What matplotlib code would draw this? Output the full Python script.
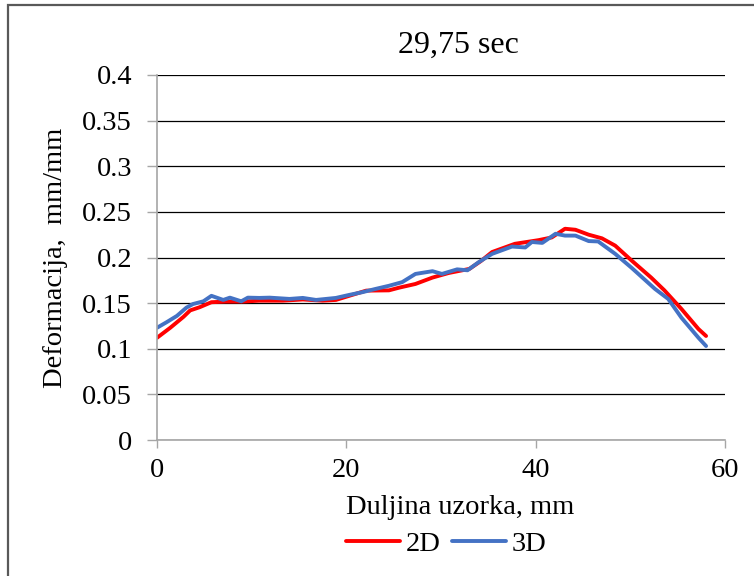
import matplotlib
matplotlib.use("Agg")
import matplotlib.pyplot as plt
from matplotlib.patches import Rectangle

# deformation along the specimen length at t = 29,75 sec
x_2d = [0, 1.4, 2.8, 3.5, 4.5, 5.75, 7.3, 9.1, 10.8, 13.3, 15.4, 17.5, 18.9,
        20.3, 22.1, 24.5, 25.6, 27.3, 29.1, 30.8, 33.0, 34.2, 35.4, 37.8,
        40.3, 41.7, 43.1, 44.2, 45.6, 47.0, 48.4, 50.1, 52.2, 53.6, 55.4,
        57.2, 58.0]
y_2d = [0.112, 0.123, 0.135, 0.142, 0.1455, 0.151, 0.1517, 0.1517, 0.1527,
        0.1527, 0.154, 0.1527, 0.1535, 0.158, 0.1637, 0.164, 0.167, 0.171,
        0.178, 0.183, 0.1875, 0.196, 0.206, 0.215, 0.219, 0.222, 0.2315,
        0.2304, 0.225, 0.221, 0.213, 0.197, 0.178, 0.164, 0.1436, 0.1216,
        0.114]

x_3d = [0, 1.0, 2.1, 3.1, 3.8, 4.9, 5.75, 7.0, 7.7, 8.9, 9.6, 10.8, 11.9,
        14.0, 15.4, 16.8, 18.9, 20.3, 21.7, 23.1, 24.5, 25.9, 27.3, 29.1,
        30.1, 31.7, 32.8, 34.0, 35.4, 37.5, 38.9, 39.6, 40.7, 42.1, 43.1,
        44.2, 45.6, 46.6, 48.4, 50.1, 52.6, 54.0, 55.4, 57.2, 58.0]
y_3d = [0.123, 0.129, 0.136, 0.145, 0.149, 0.152, 0.158, 0.1535, 0.156,
        0.152, 0.156, 0.1557, 0.156, 0.1546, 0.1557, 0.1535, 0.1557, 0.159,
        0.162, 0.1656, 0.169, 0.173, 0.182, 0.185, 0.182, 0.187, 0.186,
        0.195, 0.204, 0.212, 0.211, 0.217, 0.216, 0.226, 0.224, 0.224,
        0.218, 0.2176, 0.204, 0.189, 0.1656, 0.1546, 0.134, 0.112, 0.103]

xticks = [0, 20, 40, 60]
yticks = [0, 0.05, 0.1, 0.15, 0.2, 0.25, 0.3, 0.35, 0.4]
ytick_labels = ["0", "0.05", "0.1", "0.15", "0.2", "0.25", "0.3", "0.35", "0.4"]

plt.rcParams['font.family'] = ['Liberation Serif', 'DejaVu Serif']
fs = 20.5
axis_grey = '#a6a6a6'

fig = plt.figure(figsize=(7.54, 5.76), dpi=100)
# outer chart frame (only left and top edges fall inside the image)
fig.patches.append(Rectangle((8 / 754, -0.2), 1.5, 1.2 - 5 / 576,
                             transform=fig.transFigure, fill=False,
                             edgecolor='#595959', linewidth=1.6))

ax = fig.add_axes([157 / 754, 1 - 440 / 576, 568 / 754, 365 / 576])
ax.plot(x_2d, y_2d, color='#ff0000', lw=2.8, label='2D', solid_capstyle='round')
ax.plot(x_3d, y_3d, color='#4472c4', lw=2.8, label='3D', solid_capstyle='round')

ax.set_xlim(0, 60)
ax.set_ylim(0, 0.4)
ax.set_xticks(xticks)
ax.set_yticks(yticks)
ax.set_yticklabels(ytick_labels)
ax.set_axisbelow(True)
ax.yaxis.grid(True, color='black', lw=0.9)
for s in ['top', 'right']:
    ax.spines[s].set_visible(False)
for s in ['left', 'bottom']:
    ax.spines[s].set_color(axis_grey)
    ax.spines[s].set_linewidth(1.2)
ax.tick_params(axis='y', length=7, color=axis_grey, width=1, labelsize=fs, pad=11)
ax.tick_params(axis='x', length=6, color=axis_grey, width=1, labelsize=fs, pad=7)

fig.text(458 / 754, 1 - 45 / 576, '29,75 sec', fontsize=23, ha='center', va='center')
fig.text(460 / 754, 1 - 508 / 576, 'Duljina uzorka, mm', fontsize=fs, ha='center', va='center')
fig.text(55 / 754, 1 - 258 / 576, 'Deformacija,  mm/mm', fontsize=fs,
         ha='center', va='center', rotation=90)

fig.legend(loc='center', bbox_to_anchor=(446 / 754, 1 - 544 / 576), ncol=2,
           frameon=False, fontsize=fs, handlelength=1.9, handletextpad=0.2,
           columnspacing=0.4)

fig.savefig('out.png', dpi=100)
